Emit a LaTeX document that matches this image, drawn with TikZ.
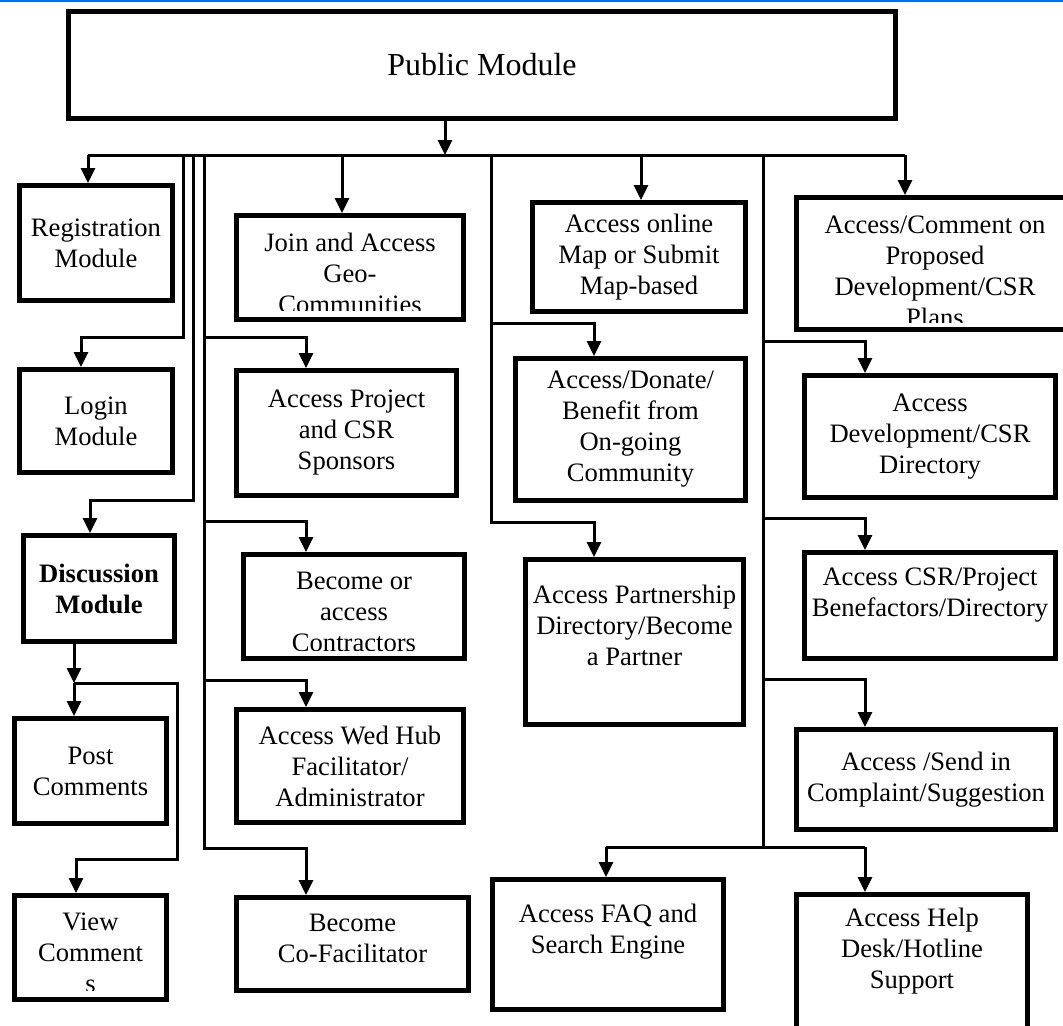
\documentclass[tikz,border=0pt]{standalone}
\usepackage{fontspec}
\setmainfont{Liberation Serif}
\usetikzlibrary{arrows.meta}
\definecolor{headrule}{RGB}{0,110,240}

\begin{document}
\begin{tikzpicture}[
        x=0.5pt, y=-0.5pt,
        module/.style={
            rectangle,
            draw=black,
            line width=2.5pt,
            align=center,
            inner sep=1pt,
            font=\fontsize{13.3pt}{15.5pt}\selectfont
        },
        wording/.style={
            align=center,
            inner sep=0pt,
            font=\fontsize{13.3pt}{15.5pt}\selectfont
        },
        wire/.style={
            line width=1.5pt
        },
        feed/.style={
            -{Triangle[length=7.5pt,width=7pt]},
            line width=1.5pt
        }
    ]

        \useasboundingbox (0,0) rectangle (1063,1025);
        \fill[white] (0,0) rectangle (1063,1025);
        \draw[headrule, line width=1pt] (0,1) -- (1063,1);

        \node[module, minimum width=413.5pt, minimum height=53.5pt,
            font=\fontsize{16pt}{19pt}\selectfont] (pub) at (482,65) {Public Module};

        \node[module, minimum width=76.5pt, minimum height=57.5pt] (reg) at (96,243) {Registration\\Module};
        \node[module, minimum width=76.5pt, minimum height=51.5pt] (login) at (96,421) {Login\\Module};
        \node[module, minimum width=75.5pt, minimum height=53pt,
            font=\fontsize{13.3pt}{15.5pt}\selectfont\bfseries] (disc) at (99,588.5) {Discussion\\Module};
        \node[module, minimum width=76pt, minimum height=52.5pt] (post) at (90.5,771) {Post\\Comments};
        \node[module, minimum width=76pt, minimum height=52pt] (view) at (90.5,947.5) {};

        \node[module, minimum width=113.5pt, minimum height=52pt] (join) at (350,267.5) {};
        \node[module, minimum width=110pt, minimum height=62.5pt] (proj) at (346.5,433) {Access Project\\and CSR\\Sponsors};
        \node[module, minimum width=110.5pt, minimum height=52pt] (become) at (354,606.5) {};
        \node[module, minimum width=113.5pt, minimum height=56.5pt] (webhub) at (350,766) {Access Wed Hub\\Facilitator/\\Administrator};
        \node[module, minimum width=116pt, minimum height=46.5pt, text depth=6pt] (cofac) at (352.5,944) {Become\\Co-Facilitator};

        \node[module, minimum width=106.5pt, minimum height=54.5pt] (map) at (639,257) {Access online\\Map or Submit\\Map-based};
        \node[module, minimum width=115pt, minimum height=71pt] (donate) at (630.5,429.5) {Access/Donate/\\Benefit from\\On-going\\Community};
        \node[module, minimum width=109pt, minimum height=82.5pt, text depth=17pt] (partner) at (634.5,642) {Access Partnership\\Directory/Become\\a Partner};
        \node[module, minimum width=115.5pt, minimum height=65pt, text depth=16pt] (faq) at (608,944.5) {Access FAQ and\\Search Engine};

        \node[module, minimum width=138.5pt, minimum height=66pt] (comment) at (935,263.5) {};
        \node[module, minimum width=125.5pt, minimum height=61pt] (dev) at (930,436.5) {Access\\Development/CSR\\Directory};
        \node[module, minimum width=125.5pt, minimum height=53pt, text depth=13pt] (csr) at (930,605.5) {Access CSR/Project\\Benefactors/Directory};
        \node[module, minimum width=129.5pt, minimum height=50pt] (send) at (926,779.5) {Access /Send in\\Complaint/Suggestion};
        \node[module, minimum width=115.5pt, minimum height=71.5pt, text depth=18pt] (help) at (912,966) {Access Help\\Desk/Hotline\\Support};

        \foreach \m/\cut/\drop/\txt in {
                join/5.75/-2.75/{Join and Access\\Geo-\\Communities},
                become/5.25/-2.75/{Become or\\access\\Contractors},
                comment/4.75/-4/{Access/Comment on\\Proposed\\Development/CSR\\Plans},
                view/5.75/-2.75/{View\\Comment\\s}} {
            \begin{scope}
                \clip (\m.north west) rectangle ([yshift=\cut pt]\m.south east);
                \node[wording, yshift=\drop pt] (\m-text) at (\m.center) {\txt};
            \end{scope}
        }

        \coordinate (busL) at (88,155);
        \coordinate (busR) at (905,155);
        \coordinate (drop) at (445,155);
        \draw[feed] (pub.south -| drop) -- (drop);
        \draw[wire] (busL) -- (busR);
        \draw[feed] (busL) -- (busL |- reg.north);
        \draw[feed] (busR) -- (busR |- comment.north);

        \coordinate (t1) at (183,155);
        \coordinate (t2) at (193,155);
        \coordinate (t3) at (204,155);
        \coordinate (t4) at (342,155);
        \coordinate (t5) at (491,155);
        \coordinate (t6) at (641,155);
        \coordinate (t7) at (763,155);

        \coordinate (e1) at (81,337);
        \coordinate (e2) at (90,500);
        \draw[feed] (t1) |- (e1) -- (e1 |- login.north);
        \draw[feed] (t2) |- (e2) -- (e2 |- disc.north);

        \foreach \t/\m in {t4/join, t6/map}
            \draw[feed] (\t) -- (\t |- \m.north);

        \coordinate (k1) at (306,337);
        \coordinate (k2) at (306,521);
        \coordinate (k3) at (306,680);
        \coordinate (k4) at (306,848);
        \draw[wire] (t3) |- (k4);
        \foreach \k/\m in {k1/proj, k2/become, k3/webhub, k4/cofac}
            \draw[feed] (t3 |- \k) -- (\k) -- (\k |- \m.north);

        \coordinate (d1) at (594,323);
        \coordinate (d2) at (594,522);
        \draw[wire] (t5) |- (d2);
        \foreach \k/\m in {d1/donate, d2/partner}
            \draw[feed] (t5 |- \k) -- (\k) -- (\k |- \m.north);

        \coordinate (r1) at (865,341);
        \coordinate (r2) at (865,518);
        \coordinate (r3) at (865,679);
        \coordinate (r4) at (865,847);
        \coordinate (f1) at (606,847);
        \draw[wire] (t7) -- (t7 |- r4);
        \draw[wire] (f1) -- (r4);
        \foreach \k/\m in {r1/dev, r2/csr, r3/send}
            \draw[feed] (t7 |- \k) -- (\k) -- (\k |- \m.north);
        \draw[feed] (f1) -- (f1 |- faq.north);
        \draw[feed] (r4) -- (r4 |- help.north);

        \coordinate (j1) at (74,683);
        \coordinate (j2) at (177,859);
        \coordinate (j3) at (76,859);
        \draw[feed] (disc.south -| j1) -- (j1);
        \draw[feed] (j1) -- (j1 |- post.north);
        \draw[feed] (j1) -| (j2) -- (j3) -- (j3 |- view.north);

    \end{tikzpicture}
\end{document}
